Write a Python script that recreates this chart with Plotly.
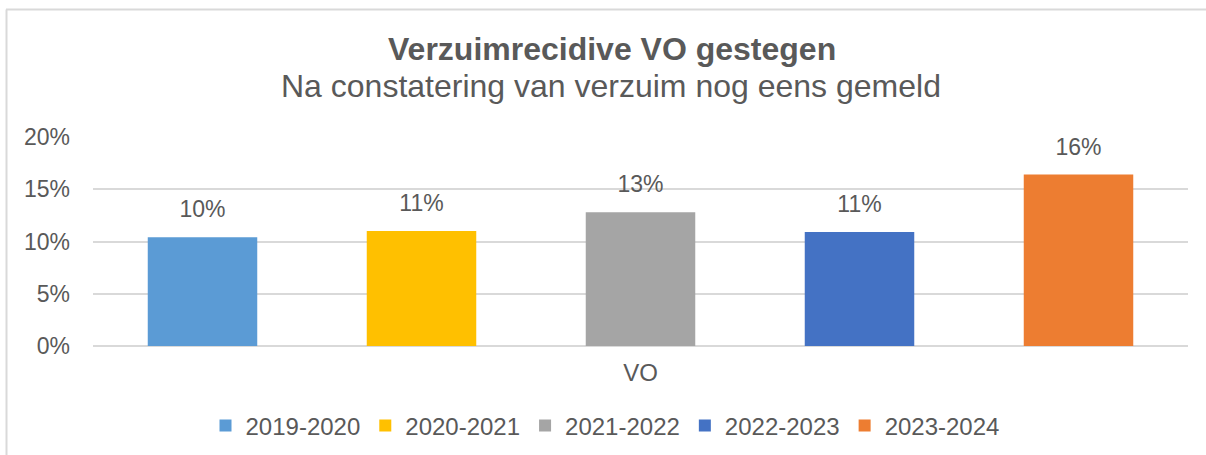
import plotly.graph_objects as go

categories = ["VO"]
seasons = ["2019-2020", "2020-2021", "2021-2022", "2022-2023", "2023-2024"]
values = [0.104, 0.110, 0.128, 0.109, 0.164]
colors = ["#5B9BD5", "#FFC000", "#A5A5A5", "#4472C4", "#ED7D31"]
y_ticks = [0, 0.05, 0.10, 0.15, 0.20]

W, H = 1206, 455
L, R, T, B = 93, 18, 137, 109
pw, ph = W - L - R, H - T - B

def px_x(x):
    return (x - L) / pw

def px_y(y):
    return (H - B - y) / ph

TXT = "#595959"
FONT = "Liberation Sans, Arial, sans-serif"

fig = go.Figure()
for s, v, c in zip(seasons, values, colors):
    fig.add_trace(go.Bar(
        x=categories, y=[v], name=s, marker_color=c, marker_line_width=0,
        offsetgroup=s,
    ))
# value labels, grouped like the bars
for s, v in zip(seasons, values):
    fig.add_trace(go.Scatter(
        x=categories, y=[v], mode="markers+text", offsetgroup=s,
        marker=dict(size=21, color="rgba(0,0,0,0)"),
        text=[f"{v:.0%}"], textposition="top center",
        textfont=dict(size=23, color=TXT, family=FONT),
        showlegend=False, hoverinfo="skip", cliponaxis=False,
    ))

fig.update_layout(
    width=W, height=H,
    margin=dict(l=L, r=R, t=T, b=B, pad=0, autoexpand=False),
    paper_bgcolor="white", plot_bgcolor="white",
    barmode="group", bargap=0, bargroupgap=0.5,
    scattermode="group", scattergap=0,
    font=dict(family=FONT, color=TXT, size=20),
    showlegend=True,
    legend=dict(orientation="h", x=px_x(605), xanchor="center", y=px_y(426), yanchor="middle",
                font=dict(size=24, color=TXT), itemwidth=30, traceorder="normal"),
    yaxis=dict(range=[0, 0.20], tickvals=y_ticks, tickformat=".0%", showgrid=True,
               gridcolor="#D9D9D9", gridwidth=1.5, zeroline=True, zerolinecolor="#D9D9D9",
               zerolinewidth=1.5, showline=False, ticks="", ticklabelstandoff=22,
               tickfont=dict(size=23, color=TXT), automargin=False),
    xaxis=dict(showgrid=False, showline=False, ticks="", tickfont=dict(size=24, color=TXT),
               ticklabelstandoff=10, automargin=False),
    annotations=[
        dict(text="<b>Verzuimrecidive VO gestegen</b>", x=px_x(612), y=px_y(49), xref="paper", yref="paper",
             xanchor="center", yanchor="middle", showarrow=False, font=dict(size=32, color=TXT)),
        dict(text="Na constatering van verzuim nog eens gemeld", x=px_x(611), y=px_y(86), xref="paper", yref="paper",
             xanchor="center", yanchor="middle", showarrow=False, font=dict(size=32, color=TXT)),
    ],
    shapes=[
        dict(type="line", xref="paper", yref="paper", x0=px_x(6), x1=px_x(1206), y0=px_y(9.5), y1=px_y(9.5),
             line=dict(color="#D9D9D9", width=2)),
        dict(type="line", xref="paper", yref="paper", x0=px_x(6.5), x1=px_x(6.5), y0=px_y(9.5), y1=px_y(460),
             line=dict(color="#D9D9D9", width=2)),
    ],
)

fig.write_html("out.html", config={"displayModeBar": False},
               post_script="document.body.style.margin='0';")
